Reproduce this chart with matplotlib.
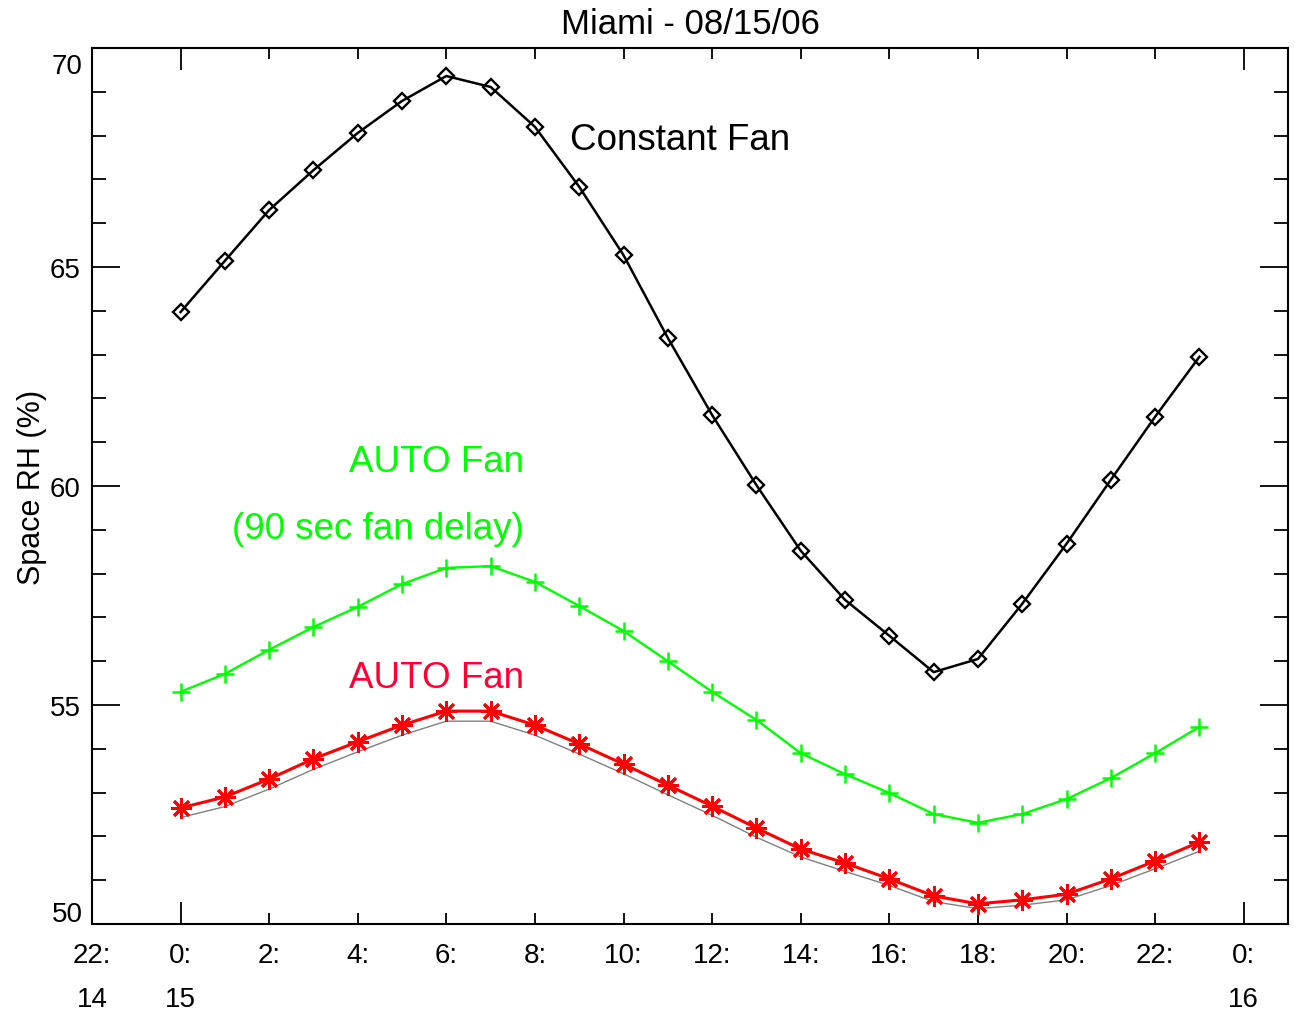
import matplotlib
matplotlib.use('Agg')
import matplotlib.pyplot as plt
from matplotlib.ticker import MultipleLocator

plt.rcParams['font.family'] = ['Liberation Sans', 'DejaVu Sans']

# hour of day on 08/15/06
hours = list(range(24))

constant_fan = [63.97, 65.14, 66.30, 67.21, 68.06, 68.79, 69.36, 69.11, 68.20, 66.83,
                65.27, 63.38, 61.62, 60.02, 58.52, 57.40, 56.58, 55.75, 56.05, 57.31,
                58.68, 60.14, 61.58, 62.95]

auto_fan_delay = [55.30, 55.71, 56.26, 56.78, 57.24, 57.76, 58.13, 58.17, 57.81, 57.26,
                  56.69, 56.00, 55.30, 54.66, 53.90, 53.42, 52.99, 52.51, 52.31, 52.51,
                  52.85, 53.33, 53.90, 54.50]

auto_fan = [52.65, 52.90, 53.31, 53.77, 54.16, 54.54, 54.86, 54.86, 54.54, 54.11,
            53.65, 53.17, 52.69, 52.19, 51.71, 51.39, 51.03, 50.64, 50.46, 50.55,
            50.68, 51.03, 51.44, 51.87]

auto_fan_ref = [52.43, 52.68, 53.08, 53.53, 53.93, 54.31, 54.63, 54.63, 54.31, 53.88,
                53.43, 52.95, 52.48, 51.98, 51.53, 51.20, 50.88, 50.51, 50.35, 50.43,
                50.55, 50.88, 51.26, 51.66]

tick_hours = list(range(-2, 25, 2))
tick_labels = ['22:\n14', '0:\n15'] + [f'{h}:' for h in range(2, 24, 2)] + ['0:\n16']
y_ticks = [50, 55, 60, 65, 70]

fig = plt.figure(figsize=(12.95, 10.12), dpi=100)
ax = fig.add_axes([0.0710, 0.086, 0.9236, 0.8656])

ax.plot(hours, auto_fan_ref, color='gray', lw=1.0)
ax.plot(hours, constant_fan, color='black', lw=1.8, marker='D', ms=8,
        mfc='none', mec='black', mew=1.7)
ax.plot(hours, auto_fan_delay, color='#00ff00', lw=1.7, marker='+', ms=13, mew=1.8)
ax.plot(hours, auto_fan, color='red', lw=2.2, marker=(8, 2, 0), ms=15, mew=2.0)

ax.text(8.8, 67.92, 'Constant Fan', fontsize=26.5, color='black', va='center', ha='left')
ax.text(7.75, 60.55, 'AUTO Fan', fontsize=26.5, color='#00ff00', va='center', ha='right')
ax.text(7.75, 59.02, '(90 sec fan delay)', fontsize=26.5, color='#00ff00', va='center', ha='right')
ax.text(7.75, 55.62, 'AUTO Fan', fontsize=26.5, color='#ff0033', va='center', ha='right')

ax.set_xlim(-2, 25)
ax.set_ylim(50, 70)

ax.set_xticks(tick_hours)
ax.set_xticklabels(tick_labels, linespacing=1.9, va='top')
ax.set_yticks(y_ticks)
# end labels sit inside the axis range, as IDL draws them
ax.set_yticklabels(['', '55', '60', '65', ''])
ax.text(-0.008, 50.23, '50', transform=ax.get_yaxis_transform(), ha='right', va='center',
        fontsize=20)
ax.text(-0.008, 69.6, '70', transform=ax.get_yaxis_transform(), ha='right', va='center',
        fontsize=20)
ax.yaxis.set_minor_locator(MultipleLocator(1))

ax.tick_params(axis='both', which='both', direction='in', top=True, right=True,
               width=1.3, labelsize=20)
ax.tick_params(axis='x', which='major', length=8, pad=13)
ax.tick_params(axis='y', which='major', length=20, pad=8)
ax.tick_params(axis='y', which='minor', length=10)

# day boundaries get longer ticks
for i, h in enumerate(tick_hours):
    if h in (0, 24):
        t = ax.xaxis.get_major_ticks()[i]
        t.tick1line.set_markersize(16)
        t.tick2line.set_markersize(16)

for s in ax.spines.values():
    s.set_linewidth(1.5)

ax.set_ylabel('Space RH (%)', fontsize=22, labelpad=2)
ax.set_title('Miami - 08/15/06', fontsize=25, pad=11)

fig.savefig('out.png', dpi=100)
